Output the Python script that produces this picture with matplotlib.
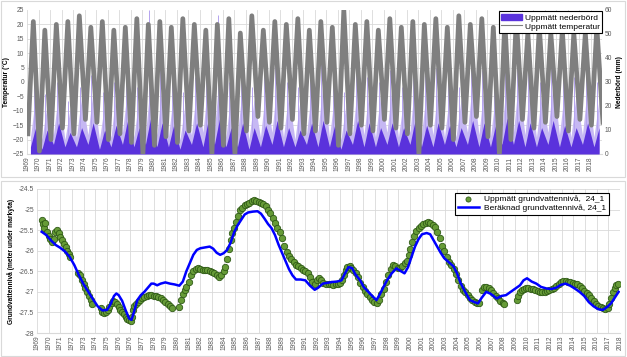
#!/usr/bin/env python
# coding: utf-8

import datetime
import numpy as np
import matplotlib
matplotlib.use("Agg")
import matplotlib.pyplot as plt
from matplotlib.patches import Patch, Rectangle
from matplotlib.lines import Line2D
from matplotlib.ticker import MultipleLocator, FixedLocator, FuncFormatter


years = list(range(1969, 2019))

# temperature (deg C): summer peak per year, winter low per year (1969..2019)
temp_max = [21, 18, 20, 21, 23, 19, 21, 18, 19, 22, 20, 21, 19, 22, 20, 18, 20, 22, 17, 23,
	18, 21, 20, 22, 18, 21, 19, 25, 20, 21, 18, 22, 19, 21, 20, 22, 19, 23, 20, 22,
	19, 21, 22, 17, 19, 17, 18, 17, 17, 19]
temp_min = [-18, -24, -20, -16, -18, -13, -14, -20, -18, -21, -25, -22, -19, -21, -17, -15,
	-25, -22, -25, -17, -12, -14, -16, -13, -18, -17, -14, -22, -18, -15, -17, -13,
	-16, -18, -25, -15, -16, -20, -14, -12, -19, -25, -20, -13, -16, -14, -12, -17,
	-13, -15, -14]

# precipitation (mm): spring low / autumn high of the dense and sparse days, wettest day
prec_dense_lo = [3, 2, 4, 3, 3, 4, 2, 3, 4, 3, 4, 3, 3, 2, 4, 3, 4, 3, 3, 2, 3, 4, 3, 3, 4,
	3, 3, 2, 4, 3, 3, 4, 3, 4, 3, 3, 4, 3, 4, 3, 3, 4, 4, 3, 3, 4, 3, 3, 4, 3]
prec_dense_hi = [11, 10, 13, 9, 11, 13, 10, 12, 14, 11, 15, 13, 12, 10, 13, 14, 15, 11, 13, 11,
	12, 14, 11, 10, 13, 14, 12, 10, 14, 13, 11, 13, 11, 14, 12, 13, 12, 11, 14, 13,
	12, 15, 14, 13, 11, 14, 12, 11, 13, 11]
prec_sparse_lo = [7, 6, 8, 6, 7, 8, 6, 7, 9, 7, 8, 8, 7, 6, 8, 9, 10, 7, 8, 6, 7, 9, 7, 6, 8,
	9, 7, 6, 8, 8, 7, 9, 7, 9, 8, 8, 7, 7, 9, 8, 7, 10, 9, 8, 7, 9, 8, 7, 8, 7]
prec_sparse_hi = [24, 21, 26, 19, 24, 27, 21, 26, 28, 24, 31, 29, 26, 21, 27, 31, 35, 26, 29, 23,
	27, 31, 25, 23, 27, 31, 25, 21, 29, 27, 25, 29, 23, 31, 27, 29, 25, 23, 31, 29,
	25, 33, 31, 29, 25, 31, 27, 25, 29, 23]
prec_day_max = [30, 25, 30, 22, 28, 33, 26, 30, 35, 28, 60, 38, 30, 26, 32, 45, 58, 30, 35, 28,
	33, 38, 30, 28, 34, 40, 30, 26, 37, 32, 30, 35, 28, 40, 33, 36, 30, 28, 38, 35,
	30, 42, 38, 35, 30, 40, 34, 32, 36, 30]

# groundwater, measured (24_1), meter under ground
obs_year = [1969.40, 1969.50, 1969.60, 1969.70, 1969.85, 1970.00, 1970.15, 1970.30, 1970.45,
	1970.55, 1970.70, 1970.85, 1971.00, 1971.15, 1971.30, 1971.45, 1971.60, 1971.75, 1971.85,
	1972.54, 1972.70, 1972.85, 1973.00, 1973.15, 1973.30, 1973.45, 1973.60, 1973.75,
	1974.50, 1974.60, 1974.75, 1974.90, 1975.05, 1975.20, 1975.40, 1975.55, 1975.70, 1975.85,
	1976.00, 1976.15, 1976.30, 1976.45, 1976.60, 1976.75, 1976.90, 1977.05, 1977.15, 1977.25,
	1977.35, 1977.50, 1977.65, 1977.80, 1978.00, 1978.20, 1978.40, 1978.60, 1978.80, 1979.00,
	1979.20, 1979.40, 1979.60, 1979.80, 1980.00, 1980.20, 1980.40, 1980.60,
	1981.20, 1981.35, 1981.50, 1981.65, 1981.80, 1982.00, 1982.20, 1982.40, 1982.60, 1982.80,
	1983.00, 1983.20, 1983.40, 1983.60, 1983.80, 1984.00, 1984.20, 1984.40, 1984.60, 1984.80,
	1985.00, 1985.15, 1985.30, 1985.45, 1985.60, 1985.75, 1985.90, 1986.05, 1986.20, 1986.40,
	1986.60, 1986.80, 1987.00, 1987.20, 1987.40, 1987.60, 1987.80, 1988.00, 1988.20, 1988.40,
	1988.60, 1988.80, 1989.00, 1989.20, 1989.40, 1989.60, 1989.80, 1990.00, 1990.20, 1990.40,
	1990.60, 1990.80, 1991.00, 1991.20, 1991.40, 1991.60, 1991.80, 1992.00, 1992.20, 1992.40,
	1992.60, 1992.80, 1993.00, 1993.15, 1993.35, 1993.55, 1993.80, 1994.00, 1994.20, 1994.40,
	1994.60, 1994.80, 1995.00, 1995.15, 1995.30, 1995.45, 1995.60, 1995.80, 1995.95, 1996.10,
	1996.30, 1996.50, 1996.70, 1996.90, 1997.10, 1997.30, 1997.50, 1997.70, 1997.90, 1998.10,
	1998.30, 1998.50, 1998.70, 1998.90, 1999.10, 1999.30, 1999.50, 1999.70, 1999.90, 2000.10,
	2000.30, 2000.50, 2000.70, 2000.85, 2001.00, 2001.15, 2001.30, 2001.50, 2001.70, 2001.90,
	2002.10, 2002.30, 2002.50, 2002.70, 2002.90, 2003.10, 2003.30, 2003.50, 2003.70, 2003.90,
	2004.10, 2004.30, 2004.50, 2004.70, 2004.90, 2005.10, 2005.30, 2005.50, 2005.70, 2005.90,
	2006.10, 2006.30, 2006.50, 2006.70, 2006.85,
	2007.15, 2007.30, 2007.50, 2007.70, 2007.90, 2008.10, 2008.30, 2008.50, 2008.70, 2008.90, 2009.00,
	2010.10, 2010.25, 2010.40, 2010.55, 2010.70, 2010.90, 2011.10, 2011.30, 2011.50, 2011.70,
	2011.90, 2012.10, 2012.30, 2012.50, 2012.70, 2012.90, 2013.10, 2013.30, 2013.50, 2013.70,
	2013.90, 2014.10, 2014.30, 2014.50, 2014.70, 2014.90, 2015.10, 2015.30, 2015.50, 2015.70,
	2015.90, 2016.10, 2016.30, 2016.50, 2016.70, 2016.90, 2017.10, 2017.30, 2017.50, 2017.70,
	2017.90, 2018.05, 2018.20, 2018.35, 2018.50, 2018.65, 2018.80]
obs_level = [-25.25, -25.35, -25.45, -25.32, -25.55, -25.65, -25.72, -25.80, -25.72,
	-25.55, -25.50, -25.58, -25.66, -25.75, -25.84, -25.90, -26.00, -26.08, -26.15,
	-26.55, -26.60, -26.70, -26.80, -26.90, -27.00, -27.10, -27.20, -27.30,
	-27.40, -27.50, -27.52, -27.50, -27.45, -27.36, -27.28, -27.22, -27.25, -27.30,
	-27.38, -27.45, -27.50, -27.55, -27.60, -27.65, -27.68, -27.70, -27.60, -27.45,
	-27.35, -27.30, -27.25, -27.20, -27.15, -27.12, -27.10, -27.08, -27.08, -27.10,
	-27.10, -27.12, -27.15, -27.20, -27.25, -27.30, -27.35, -27.40,
	-27.36, -27.20, -27.05, -26.95, -26.88, -26.75, -26.60, -26.50, -26.45, -26.43,
	-26.45, -26.47, -26.48, -26.47, -26.50, -26.52, -26.55, -26.60, -26.63, -26.60,
	-26.50, -26.40, -26.20, -25.95, -25.75, -25.58, -25.45, -25.30, -25.15, -25.02,
	-24.97, -24.90, -24.87, -24.83, -24.80, -24.77, -24.78, -24.82, -24.83, -24.86,
	-24.92, -25.00, -25.08, -25.20, -25.33, -25.45, -25.55, -25.70, -25.88, -26.03,
	-26.12, -26.20, -26.28, -26.34, -26.38, -26.42, -26.47, -26.50, -26.55, -26.65,
	-26.75, -26.80, -26.70, -26.66, -26.72, -26.78, -26.80, -26.80, -26.82, -26.83,
	-26.82, -26.80, -26.78, -26.72, -26.60, -26.48, -26.40, -26.38, -26.42, -26.48,
	-26.55, -26.65, -26.78, -26.88, -26.97, -27.05, -27.12, -27.20, -27.25, -27.28,
	-27.20, -27.05, -26.92, -26.75, -26.60, -26.45, -26.35, -26.38, -26.42, -26.43,
	-26.38, -26.30, -26.25, -26.10, -25.95, -25.80, -25.65, -25.52, -25.45, -25.40,
	-25.36, -25.32, -25.30, -25.33, -25.38, -25.42, -25.55, -25.70, -25.88, -26.00,
	-26.15, -26.28, -26.35, -26.45, -26.57, -26.70, -26.85, -26.95, -27.00, -27.08,
	-27.15, -27.20, -27.24, -27.27, -27.28,
	-26.95, -26.88, -26.88, -26.90, -26.95, -27.02, -27.10, -27.15, -27.22, -27.28, -27.30,
	-27.20, -27.10, -27.00, -26.95, -26.92, -26.90, -26.90, -26.92, -26.92, -26.95,
	-26.97, -27.00, -27.00, -27.00, -26.98, -26.95, -26.93, -26.90, -26.85, -26.80,
	-26.76, -26.74, -26.73, -26.75, -26.76, -26.78, -26.80, -26.82, -26.85, -26.90,
	-26.97, -27.03, -27.08, -27.15, -27.22, -27.30, -27.35, -27.38, -27.40, -27.41,
	-27.40, -27.30, -27.15, -27.00, -26.90, -26.83, -26.80]

# groundwater, calculated (24_1)
calc_year = [1969.4, 1969.8, 1970.2, 1970.6, 1971.0, 1971.4, 1971.8, 1972.2, 1972.6, 1973.0,
	1973.4, 1973.8, 1974.2, 1974.6, 1975.0, 1975.3, 1975.6, 1975.8, 1976.0, 1976.3,
	1976.6, 1976.9, 1977.1, 1977.3, 1977.6, 1977.9, 1978.2, 1978.5, 1978.8, 1979.0,
	1979.3, 1979.6, 1980.0, 1980.4, 1980.8, 1981.2, 1981.5, 1981.8, 1982.1, 1982.4,
	1982.7, 1983.0, 1983.4, 1983.8, 1984.1, 1984.4, 1984.7, 1985.0, 1985.3, 1985.6,
	1985.9, 1986.2, 1986.5, 1986.8, 1987.1, 1987.5, 1987.9, 1988.2, 1988.5, 1988.8,
	1989.1, 1989.4, 1989.7, 1990.0, 1990.3, 1990.6, 1990.9, 1991.2, 1991.6, 1992.0,
	1992.4, 1992.8, 1993.1, 1993.5, 1993.9, 1994.3, 1994.7, 1995.1, 1995.4, 1995.7,
	1996.0, 1996.3, 1996.7, 1997.0, 1997.4, 1997.8, 1998.1, 1998.4, 1998.7, 1999.0,
	1999.4, 1999.8, 2000.2, 2000.5, 2000.8, 2001.1, 2001.4, 2001.7, 2002.0, 2002.4,
	2002.7, 2003.0, 2003.3, 2003.6, 2003.9, 2004.3, 2004.7, 2005.0, 2005.3, 2005.7,
	2006.1, 2006.5, 2006.8, 2007.1, 2007.5, 2007.9, 2008.4, 2008.8, 2009.2, 2009.6,
	2010.0, 2010.4, 2010.7, 2011.0, 2011.4, 2011.8, 2012.2, 2012.7, 2013.1, 2013.5,
	2013.9, 2014.3, 2014.7, 2015.1, 2015.5, 2015.9, 2016.3, 2016.7, 2017.1, 2017.5,
	2017.9, 2018.2, 2018.5, 2018.85]
calc_level = [-25.54, -25.62, -25.75, -25.86, -25.93, -26.02, -26.15, -26.35, -26.60, -26.82,
	-27.00, -27.18, -27.35, -27.45, -27.44, -27.30, -27.10, -27.04, -27.08, -27.22,
	-27.45, -27.65, -27.68, -27.50, -27.20, -27.08, -27.00, -26.90, -26.80, -26.80,
	-26.84, -26.80, -26.77, -26.80, -26.82, -26.85, -26.75, -26.50, -26.30, -26.10,
	-25.98, -25.94, -25.92, -25.90, -25.95, -26.05, -26.10, -26.06, -25.98, -25.80,
	-25.55, -25.38, -25.25, -25.12, -25.07, -25.05, -25.04, -25.10, -25.22, -25.35,
	-25.45, -25.62, -25.85, -26.05, -26.25, -26.45, -26.60, -26.70, -26.70, -26.72,
	-26.85, -26.95, -26.90, -26.80, -26.78, -26.76, -26.75, -26.72, -26.55, -26.40,
	-26.42, -26.58, -26.72, -26.88, -27.00, -27.12, -27.20, -27.05, -26.88, -26.72,
	-26.55, -26.43, -26.50, -26.55, -26.40, -26.15, -25.90, -25.72, -25.60, -25.57,
	-25.60, -25.75, -25.90, -26.05, -26.18, -26.28, -26.38, -26.55, -26.78, -27.00,
	-27.20, -27.25, -27.28, -27.15, -27.00, -27.05, -27.16, -27.10, -27.08, -27.00,
	-26.92, -26.84, -26.72, -26.67, -26.75, -26.80, -26.88, -26.92, -26.93, -26.90,
	-26.83, -26.80, -26.85, -26.92, -27.00, -27.10, -27.25, -27.35, -27.42, -27.44,
	-27.36, -27.28, -27.15, -27.00]


def dec_year(d):
	n = 366 if d.year % 4 == 0 else 365
	return d.year + (d.timetuple().tm_yday - 1) / n


def zigzag(lo, hi, lo_pos, hi_pos):
	# low and high point of every year, in date order
	xs, ys = [], []
	for i, y in enumerate(years):
		xs += [y + lo_pos, y + hi_pos]
		ys += [lo[i], hi[i]]
	return xs, ys


def main():
	plt.rcParams['font.family'] = ['Liberation Sans', 'DejaVu Sans']
	tick_col = '#595959'
	grid_col = '#d9d9d9'
	dark_purple = '#5a32dc'

	fig = plt.figure(figsize=(6.27, 3.57), dpi=100)

	# chart frames
	fig.patches.append(Rectangle((0.002, 0.505), 0.995, 0.492, transform=fig.transFigure,
		fill=False, ec=grid_col, lw=0.8))
	fig.patches.append(Rectangle((0.002, 0.003), 0.995, 0.490, transform=fig.transFigure,
		fill=False, ec=grid_col, lw=0.8))

	# ---- top: precipitation + temperature ----
	ax_p = fig.add_axes([27 / 627, 1 - 154 / 357, 575 / 627, 144 / 357])
	ax_t = ax_p.twinx()

	sx, sy = zigzag(prec_sparse_lo, prec_sparse_hi, 0.3, 0.75)
	ax_p.fill_between(sx, 0, sy, color='#c6b8f3', lw=0, zorder=2)
	ax_p.vlines([y + 0.6 for y in years], 0, prec_day_max, color='#b4a3ef', lw=0.7, zorder=2)
	dx, dy = zigzag(prec_dense_lo, prec_dense_hi, 0.3, 0.75)
	ax_p.fill_between(dx, 0, dy, color=dark_purple, lw=0, zorder=3)

	tx, ty = [], []
	for i, y in enumerate(years):
		tx += [y + 0.08, y + 0.55]
		ty += [temp_min[i], temp_max[i]]
	tx.append(years[-1] + 1.08)
	ty.append(temp_min[-1])
	ax_t.plot(tx, ty, color='#7f7f7f', lw=3.4, solid_joinstyle='round')

	ax_p.set_xlim(1969, 2019)
	ax_p.set_ylim(0, 60)
	ax_t.set_ylim(-25, 25)
	ax_p.yaxis.tick_right()
	ax_p.yaxis.set_label_position('right')
	ax_t.yaxis.tick_left()
	ax_t.yaxis.set_label_position('left')
	ax_p.yaxis.set_major_locator(MultipleLocator(10))
	ax_p.yaxis.set_minor_locator(MultipleLocator(6))
	ax_t.yaxis.set_major_locator(MultipleLocator(5))
	ax_p.xaxis.set_major_locator(FixedLocator(years))
	ax_p.set_xticklabels([str(y) for y in years], rotation=90)
	ax_p.grid(True, axis='x', color=grid_col, lw=0.6)
	ax_p.grid(True, axis='y', which='minor', color=grid_col, lw=0.6)
	ax_p.set_axisbelow(True)

	for a in (ax_p, ax_t):
		for s in a.spines.values():
			s.set_visible(False)
		a.tick_params(length=0, labelsize=4.8, colors=tick_col, pad=2)
		a.tick_params(which='minor', length=0)
	ax_p.spines['bottom'].set_visible(True)
	ax_p.spines['bottom'].set_color(grid_col)

	ax_t.set_ylabel('Temperatur (°C)', fontsize=4.8, fontweight='bold', labelpad=2)
	ax_p.set_ylabel('Nederbörd (mm)', fontsize=4.8, fontweight='bold', labelpad=3)

	handles = [Patch(facecolor=dark_purple, edgecolor=dark_purple),
		Line2D([], [], color='#7f7f7f', lw=0.8)]
	leg = ax_t.legend(handles, ['Uppmätt nederbörd', 'Uppmätt temperatur'],
		loc='upper right', bbox_to_anchor=(1.0, 0.99), borderaxespad=0, fontsize=6,
		fancybox=False, framealpha=1, edgecolor='black', handlelength=2.6,
		handleheight=0.8, handletextpad=0.3, labelspacing=0.1, borderpad=0.25)
	leg.get_frame().set_linewidth(0.8)

	# ---- bottom: groundwater level ----
	ax = fig.add_axes([37 / 627, 1 - 333 / 357, 583 / 627, 144 / 357])

	tick_dates = [datetime.date(1969, 1, 2) + datetime.timedelta(days=365 * k) for k in range(51)]
	gw_ticks = [dec_year(d) for d in tick_dates]
	gw_labels = [str(d.year) for d in tick_dates]

	ax.scatter(obs_year, obs_level, s=21, facecolor='#669b37', edgecolor='#2f5a16',
		linewidth=0.6, zorder=3, label='Uppmätt grundvattennivå,  24_1')
	ax.plot(calc_year, calc_level, color='#0000ff', lw=1.8, zorder=4,
		label='Beräknad grundvattennivå, 24_1')

	ax.set_xlim(gw_ticks[0] - 0.003, gw_ticks[-1])
	ax.set_ylim(-28, -24.5)
	ax.yaxis.set_major_locator(MultipleLocator(0.5))
	ax.yaxis.set_major_formatter(FuncFormatter(lambda v, p: '%g' % v))
	ax.xaxis.set_major_locator(FixedLocator(gw_ticks))
	ax.set_xticklabels(gw_labels, rotation=90)
	ax.grid(True, color=grid_col, lw=0.6)
	ax.set_axisbelow(True)
	for s in ax.spines.values():
		s.set_visible(False)
	ax.spines['bottom'].set_visible(True)
	ax.spines['bottom'].set_color(grid_col)
	ax.tick_params(length=0, labelsize=4.8, colors=tick_col, pad=2)
	ax.set_ylabel('Grundvattennivå (meter under markyta)', fontsize=4.8, fontweight='bold',
		labelpad=3)

	leg2 = ax.legend(loc='upper right', bbox_to_anchor=(0.981, 0.975), borderaxespad=0,
		fontsize=6, fancybox=False, framealpha=1, edgecolor='black', handlelength=2.6,
		handletextpad=0.6, labelspacing=0.15, borderpad=0.3, markerscale=0.8)
	leg2.get_frame().set_linewidth(0.8)

	fig.savefig('out.png', dpi=100)


if __name__ == '__main__':
	main()
